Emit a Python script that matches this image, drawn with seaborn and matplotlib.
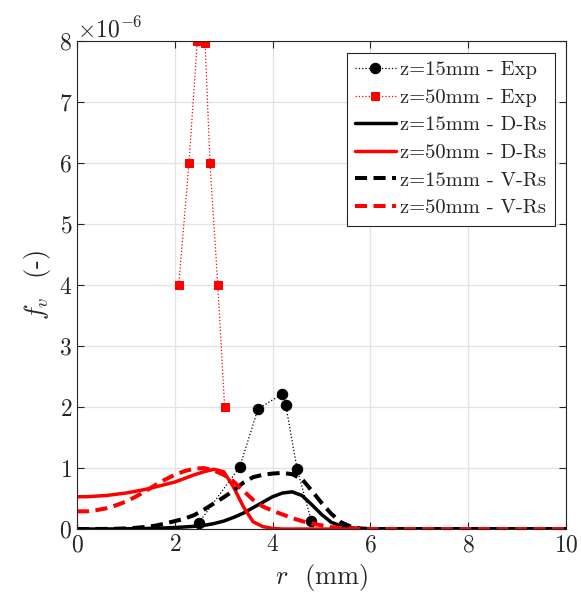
import matplotlib
matplotlib.use('Agg')
import matplotlib.pyplot as plt
import seaborn as sns
import numpy as np
import pandas as pd
from matplotlib.ticker import ScalarFormatter

# datos experimentales (fv en unidades de 1e-6)
r_exp15 = [2.49, 3.33, 3.70, 4.19, 4.27, 4.50, 4.79]
fv_exp15 = [0.10, 1.02, 1.97, 2.21, 2.03, 0.99, 0.14]
r_exp50 = [2.08, 2.29, 2.46, 2.62, 2.72, 2.88, 3.02]
fv_exp50 = [4.0, 6.0, 8.0, 7.97, 6.0, 4.0, 2.0]

# modelos
r_mod = [0.0, 0.2, 0.4, 0.6, 0.8, 1.0, 1.2, 1.4, 1.6, 1.8, 2.0, 2.2, 2.4, 2.6,
         2.8, 3.0, 3.2, 3.4, 3.6, 3.8, 4.0, 4.2, 4.4, 4.6, 4.8, 5.0, 5.2, 5.4,
         5.6, 5.8, 6.0, 7.0, 8.0, 9.0, 10.0]
fv_drs15 = [0.0, 0.0, 0.0, 0.001, 0.002, 0.004, 0.006, 0.009, 0.013, 0.018,
            0.025, 0.034, 0.045, 0.06, 0.09, 0.13, 0.19, 0.26, 0.35, 0.44,
            0.53, 0.59, 0.61, 0.55, 0.40, 0.24, 0.11, 0.05, 0.02, 0.005,
            0.0, 0.0, 0.0, 0.0, 0.0]
fv_drs50 = [0.53, 0.53, 0.54, 0.55, 0.57, 0.59, 0.62, 0.65, 0.69, 0.73,
            0.77, 0.83, 0.89, 0.94, 0.98, 0.94, 0.69, 0.37, 0.12, 0.04,
            0.01, 0.0, 0.0, 0.0, 0.0, 0.0, 0.0, 0.0, 0.0, 0.0,
            0.0, 0.0, 0.0, 0.0, 0.0]
fv_vrs15 = [0.0, 0.0, 0.001, 0.002, 0.005, 0.01, 0.02, 0.035, 0.055, 0.09,
            0.13, 0.17, 0.23, 0.32, 0.42, 0.52, 0.63, 0.76, 0.85, 0.89,
            0.91, 0.92, 0.90, 0.82, 0.63, 0.43, 0.25, 0.11, 0.04, 0.01,
            0.0, 0.0, 0.0, 0.0, 0.0]
fv_vrs50 = [0.29, 0.29, 0.31, 0.34, 0.39, 0.45, 0.53, 0.62, 0.72, 0.81,
            0.89, 0.95, 0.99, 1.0, 0.96, 0.89, 0.78, 0.63, 0.48, 0.37,
            0.30, 0.24, 0.18, 0.13, 0.09, 0.06, 0.03, 0.02, 0.01, 0.005,
            0.0, 0.0, 0.0, 0.0, 0.0]

escala = 1e-6

sns.set_style('ticks')
plt.rcParams['font.family'] = 'serif'
plt.rcParams['font.serif'] = ['cmr10', 'DejaVu Serif']
plt.rcParams['mathtext.fontset'] = 'cm'
plt.rcParams['axes.formatter.use_mathtext'] = True
plt.rcParams['axes.unicode_minus'] = False

fig = plt.figure(figsize=(5.81, 6.06), dpi=100)
ax = fig.add_axes([0.1325, 0.127, 0.8417, 0.805])

def serie(x, y):
    return pd.DataFrame({'r': x, 'fv': np.array(y) * escala})

sns.lineplot(data=serie(r_exp15, fv_exp15), x='r', y='fv', ax=ax, color='black',
             linestyle=':', linewidth=0.9, marker='o', markersize=7.5,
             markeredgecolor='black', sort=False, label='z=15mm - Exp')
sns.lineplot(data=serie(r_exp50, fv_exp50), x='r', y='fv', ax=ax, color='red',
             linestyle=':', linewidth=0.9, marker='s', markersize=6,
             markeredgecolor='red', sort=False, label='z=50mm - Exp')
sns.lineplot(data=serie(r_mod, fv_drs15), x='r', y='fv', ax=ax, color='black',
             linewidth=2.5, label='z=15mm - D-Rs')
sns.lineplot(data=serie(r_mod, fv_drs50), x='r', y='fv', ax=ax, color='red',
             linewidth=2.5, label='z=50mm - D-Rs')
sns.lineplot(data=serie(r_mod, fv_vrs15), x='r', y='fv', ax=ax, color='black',
             linewidth=2.9, linestyle=(0, (3, 1.6)), label='z=15mm - V-Rs')
sns.lineplot(data=serie(r_mod, fv_vrs50), x='r', y='fv', ax=ax, color='red',
             linewidth=2.9, linestyle=(0, (3, 1.6)), label='z=50mm - V-Rs')

ax.set_xlim(0, 10)
ax.set_ylim(0, 8e-6)
ax.set_xticks(np.arange(0, 11, 2))
ax.set_yticks(np.arange(0, 9, 1) * escala)
fmt = ScalarFormatter(useMathText=True)
fmt.set_powerlimits((-3, 3))
ax.yaxis.set_major_formatter(fmt)
ax.yaxis.get_offset_text().set_fontsize(17)

ax.grid(True, color='#e3e3e3', linewidth=0.9)
ax.set_axisbelow(True)
ax.tick_params(direction='in', top=True, right=True, labelsize=17,
               length=5, width=0.8, color='#262626')
for s in ax.spines.values():
    s.set_color('#262626')
    s.set_linewidth(0.8)

ax.set_xlabel('$r$  (mm)', fontsize=19)
ax.set_ylabel('$f_v$  (-)', fontsize=19)

leg = ax.legend(loc='upper right', fontsize=14.8, fancybox=False, framealpha=1,
                edgecolor='#262626', handlelength=2.0, handletextpad=0.2,
                borderpad=0.4, labelspacing=0.45, borderaxespad=0.55)
leg.get_frame().set_linewidth(0.8)

fig.savefig('out.png', dpi=100, facecolor='white')
